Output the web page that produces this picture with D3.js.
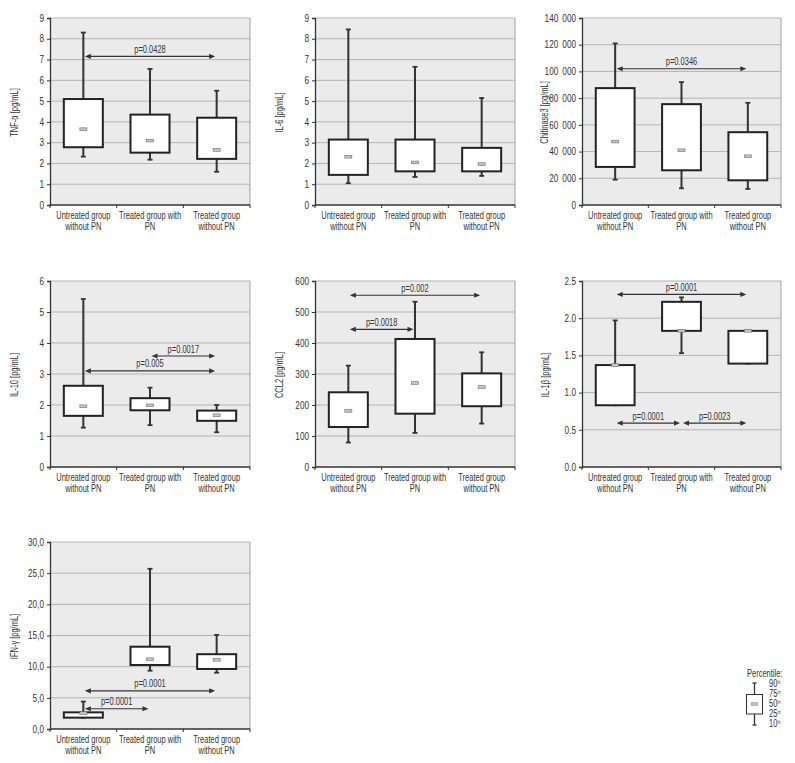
<!DOCTYPE html>
<html>
<script src="https://d3js.org/d3.v7.min.js"></script>
<style>
  body { margin: 0; background: #fff; }
  text { font-family: "Liberation Sans", Arial, sans-serif; fill: #333; }
</style>
<body>
<div id="chart"></div>

<script>
    // group names (two lines each)
    var categories = [["Untreated group", "without PN"], ["Treated group with", "PN"], ["Treated group", "without PN"]];

    // percentiles per group: [10th, 25th, 50th, 75th, 90th]
    var tnfStats  = [[2.33, 2.78, 3.65, 5.1, 8.3], [2.18, 2.52, 3.1, 4.35, 6.55], [1.6, 2.22, 2.65, 4.2, 5.5]];
    var il6Stats  = [[1.05, 1.45, 2.32, 3.15, 8.45], [1.35, 1.62, 2.05, 3.15, 6.65], [1.4, 1.62, 1.97, 2.75, 5.15]];
    var chiStats  = [[19000, 28500, 47500, 87500, 121000], [12500, 26000, 41000, 75500, 92000], [12000, 18500, 36500, 54500, 76500]];
    var il10Stats = [[1.27, 1.65, 1.96, 2.62, 5.42], [1.35, 1.83, 1.99, 2.22, 2.56], [1.12, 1.49, 1.67, 1.82, 2.0]];
    var ccl2Stats = [[79, 129, 181, 241, 327], [110, 172, 271, 413, 533], [140, 196, 258, 302, 370]];
    var il1bStats = [[0.83, 0.83, 1.37, 1.37, 1.97], [1.53, 1.83, 1.83, 2.22, 2.28], [1.39, 1.39, 1.83, 1.83, 1.83]];
    var ifnStats  = [[1.82, 1.82, 2.55, 2.67, 4.4], [9.35, 10.27, 11.2, 13.2, 25.7], [9.03, 9.63, 11.1, 12.0, 15.1]];

    // significance arrows: [from group, to group, y value, label]
    var tnfP  = [[0, 2, 7.15, "p=0.0428"]];
    var il6P  = [];
    var chiP  = [[0, 2, 102000, "p=0.0346"]];
    var il10P = [[1, 2, 3.58, "p=0.0017"], [0, 2, 3.1, "p=0.005"]];
    var ccl2P = [[0, 2, 554, "p=0.002"], [0, 1, 444, "p=0.0018"]];
    var il1bP = [[0, 2, 2.32, "p=0.0001"], [0, 1, 0.59, "p=0.0001"], [1, 2, 0.59, "p=0.0023"]];
    var ifnP  = [[0, 2, 6.12, "p=0.0001"], [0, 1, 3.25, "p=0.0001"]];

    // y axis ticks
    var tnfTicks  = d3.range(0, 10, 1);
    var il6Ticks  = d3.range(0, 10, 1);
    var chiTicks  = d3.range(0, 140001, 20000);
    var il10Ticks = d3.range(0, 7, 1);
    var ccl2Ticks = d3.range(0, 601, 100);
    var il1bTicks = [0, 0.5, 1, 1.5, 2, 2.5];
    var ifnTicks  = [0, 5, 10, 15, 20, 25, 30];

    var legendLabels = ["90", "75", "50", "25", "10"];

    var spaceFmt = function (d) { return d3.format(",")(d).replace(/,/g, "\u2002"); };
    var oneDec = d3.format(".1f");
    var commaDec = function (d) { return oneDec(d).replace(".", ","); };

    var panels = [
        { label: "TNF-α  [pg/mL]", stats: tnfStats, pv: tnfP, ticks: tnfTicks, fmt: String, left: 50, top: 18, w: 200, h: 187, lx: -36 },
        { label: "IL-6  [pg/mL]", stats: il6Stats, pv: il6P, ticks: il6Ticks, fmt: String, left: 315, top: 18, w: 200, h: 187, lx: -36 },
        { label: "Chitinase3 [pg/mL]", stats: chiStats, pv: chiP, ticks: chiTicks, fmt: spaceFmt, left: 582, top: 18, w: 199, h: 187, lx: -38 },
        { label: "IL-10  [pg/mL]", stats: il10Stats, pv: il10P, ticks: il10Ticks, fmt: String, left: 50, top: 281, w: 200, h: 186, lx: -36 },
        { label: "CCL2 [pg/mL]", stats: ccl2Stats, pv: ccl2P, ticks: ccl2Ticks, fmt: String, left: 315, top: 281, w: 200, h: 186, lx: -36 },
        { label: "IL-1β  [pg/mL]", stats: il1bStats, pv: il1bP, ticks: il1bTicks, fmt: oneDec, left: 582, top: 281, w: 199, h: 186, lx: -37 },
        { label: "IFN-γ  [pg/mL]", stats: ifnStats, pv: ifnP, ticks: ifnTicks, fmt: commaDec, left: 50, top: 542, w: 200, h: 187, lx: -36 }
    ];

    var svg = d3.select("#chart")
        .append("svg")
        .attr("width", 795)
        .attr("height", 763);

    panels.forEach(function (p) {
        var g = svg.append("g").attr("transform", "translate(" + p.left + "," + p.top + ")");

        var x = d3.scaleBand().domain(d3.range(categories.length)).range([0, p.w]);
        var y = d3.scaleLinear().domain([p.ticks[0], p.ticks[p.ticks.length - 1]]).range([p.h, 0]);
        var bw = x.bandwidth() * 0.585;

        // plot background
        g.append("rect").attr("width", p.w).attr("height", p.h).style("fill", "#ebebeb");

        // gridlines
        g.selectAll(".grid").data(p.ticks.slice(1)).enter().append("line")
            .attr("x1", 0).attr("x2", p.w)
            .attr("y1", function (d) { return y(d); }).attr("y2", function (d) { return y(d); })
            .style("stroke", "#b3b3b3").style("stroke-width", 1);
        g.append("line").attr("x1", p.w).attr("x2", p.w).attr("y1", 0).attr("y2", p.h)
            .style("stroke", "#a0a0a0");

        // y axis
        var ya = g.append("g").call(d3.axisLeft(y).tickValues(p.ticks).tickFormat(p.fmt).tickSize(3).tickPadding(3));
        ya.select(".domain").style("stroke", "#333").style("stroke-width", 1.3);
        ya.selectAll(".tick line").style("stroke", "#333");
        ya.selectAll("text").style("font-size", "10px").style("fill", "#333")
            .style("font-family", "'Liberation Sans', Arial, sans-serif")
            .attr("data-sx", 0.82);

        // x axis with ticks at band boundaries
        g.append("line").attr("x1", 0).attr("x2", p.w).attr("y1", p.h).attr("y2", p.h)
            .style("stroke", "#333").style("stroke-width", 1.3);
        g.selectAll(".xt").data(d3.range(categories.length + 1)).enter().append("line")
            .attr("x1", function (d) { return d * x.step(); }).attr("x2", function (d) { return d * x.step(); })
            .attr("y1", p.h).attr("y2", p.h + 3)
            .style("stroke", "#333");

        g.selectAll(".xl").data(categories).enter().append("text")
            .attr("text-anchor", "middle")
            .attr("x", function (d, i) { return x(i) + x.bandwidth() / 2; })
            .attr("y", p.h + 14)
            .style("font-size", "10px")
            .each(function (d) {
                var t = d3.select(this);
                t.append("tspan").attr("x", t.attr("x")).attr("dy", 0).text(d[0]);
                t.append("tspan").attr("x", t.attr("x")).attr("dy", 10.7).text(d[1]);
            });

        // y label
        g.append("text")
            .attr("transform", "translate(" + p.lx + "," + (p.h / 2 + 1) + ") rotate(-90)")
            .attr("text-anchor", "middle")
            .attr("dy", "0.35em")
            .style("font-size", "10px")
            .text(p.label);

        // box plots
        var box = g.selectAll(".box").data(p.stats).enter().append("g")
            .attr("transform", function (d, i) { return "translate(" + (x(i) + x.bandwidth() / 2) + ",0)"; });

        box.append("line")
            .attr("x1", 0).attr("x2", 0)
            .attr("y1", function (d) { return y(d[3]); }).attr("y2", function (d) { return y(d[4]); })
            .style("stroke", "#333").style("stroke-width", 2);
        box.append("line")
            .attr("x1", 0).attr("x2", 0)
            .attr("y1", function (d) { return y(d[0]); }).attr("y2", function (d) { return y(d[1]); })
            .style("stroke", "#333").style("stroke-width", 2);
        box.selectAll(".cap").data(function (d) { return [d[0], d[4]]; }).enter().append("line")
            .attr("x1", -2.5).attr("x2", 2.5)
            .attr("y1", function (v) { return y(v); }).attr("y2", function (v) { return y(v); })
            .style("stroke", "#333").style("stroke-width", 1.8);
        box.append("rect")
            .attr("x", -bw / 2).attr("width", bw)
            .attr("y", function (d) { return y(d[3]); })
            .attr("height", function (d) { return y(d[1]) - y(d[3]); })
            .style("fill", "#fff").style("stroke", "#222").style("stroke-width", 2);
        box.append("rect")
            .attr("x", -3.5).attr("width", 7)
            .attr("y", function (d) { return y(d[2]) - 1.3; })
            .attr("height", 2.6)
            .style("fill", "#c8c8c8").style("stroke", "#777").style("stroke-width", 0.7);

        // significance arrows
        var ar = g.selectAll(".pv").data(p.pv).enter().append("g");
        ar.each(function (d) {
            var a = d3.select(this);
            var x1 = x(d[0]) + x.bandwidth() / 2 + 1.5;
            var x2 = x(d[1]) + x.bandwidth() / 2 - 1.5;
            var yy = y(d[2]);
            a.append("line").attr("x1", x1 + 4).attr("x2", x2 - 4).attr("y1", yy).attr("y2", yy)
                .style("stroke", "#333").style("stroke-width", 1.2);
            a.append("path")
                .attr("d", "M" + x1 + "," + yy + "l6,-2.6v5.2z M" + x2 + "," + yy + "l-6,-2.6v5.2z")
                .style("fill", "#333");
            a.append("text")
                .attr("x", (x1 + x2) / 2).attr("y", yy - 3.5)
                .attr("text-anchor", "middle")
                .style("font-size", "10px")
                .text(d[3]);
        });
    });

    // legend
    var lg = svg.append("g").attr("transform", "translate(746,674)");
    lg.append("text").attr("x", 1).attr("y", 3).style("font-size", "10px").text("Percentile:");
    var ly = d3.scaleLinear().domain([0, 4]).range([10, 50]);
    lg.append("line").attr("x1", 8.5).attr("x2", 8.5).attr("y1", ly(0) - 1).attr("y2", ly(4) + 1)
        .style("stroke", "#333").style("stroke-width", 1.3);
    lg.selectAll(".lc").data([ly(0) - 1, ly(4) + 1]).enter().append("line")
        .attr("x1", 6.5).attr("x2", 10.5).attr("y1", function (d) { return d; }).attr("y2", function (d) { return d; })
        .style("stroke", "#333").style("stroke-width", 1.3);
    lg.append("rect").attr("x", 0.5).attr("y", ly(1) + 0.5).attr("width", 16).attr("height", ly(3) - ly(1) - 0.5)
        .style("fill", "#fff").style("stroke", "#333").style("stroke-width", 1);
    lg.append("rect").attr("x", 5.5).attr("y", ly(2) - 1.2).attr("width", 6).attr("height", 2.4)
        .style("fill", "#c8c8c8").style("stroke", "#777").style("stroke-width", 0.6);
    lg.selectAll(".ll").data(legendLabels).enter().append("text")
        .attr("x", 23).attr("y", function (d, i) { return ly(i) + 3; })
        .style("font-size", "10px")
        .each(function (d) {
            var t = d3.select(this);
            t.append("tspan").text(d);
            t.append("tspan").attr("dy", -3).style("font-size", "5px").text("th");
        });

    // the original uses a narrow typeface: squeeze every label horizontally about its anchor
    svg.selectAll("text").each(function () {
        var t = d3.select(this);
        var sx = +t.attr("data-sx") || 0.75;
        var tx = +t.attr("x") || 0, ty = +t.attr("y") || 0;
        var tr = t.attr("transform") || "";
        t.attr("transform", tr + " translate(" + tx + "," + ty + ") scale(" + sx + ",1) translate(" + (-tx) + "," + (-ty) + ")");
    });
</script>

</body>
</html>
